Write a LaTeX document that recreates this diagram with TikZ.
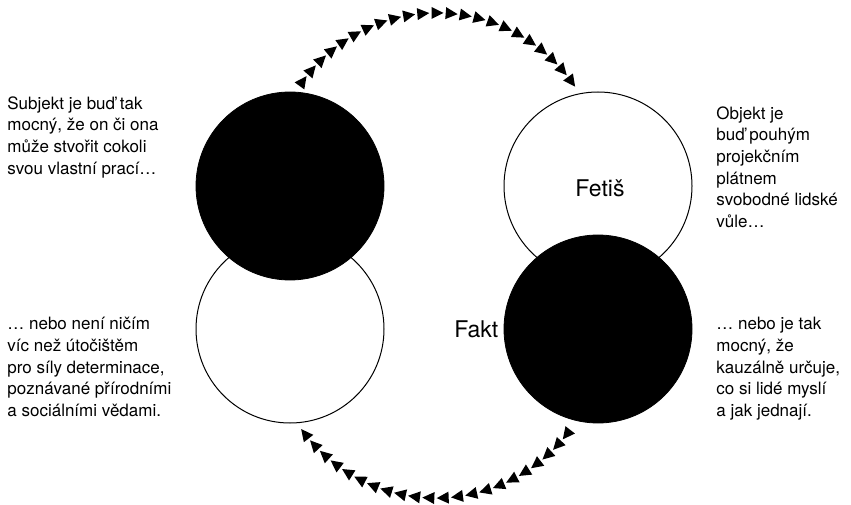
\documentclass[tikz,border=0pt]{standalone}
\usepackage{fontspec}
\setmainfont{TeX Gyre Heros}
\usetikzlibrary{positioning}

\begin{document}
\begin{tikzpicture}[x=0.5pt, y=0.5pt,
  wht/.style={circle, draw, line width=0.5pt, fill=white, inner sep=0, minimum size=94pt},
  blk/.style={circle, draw, fill=black, inner sep=0, minimum size=94pt},
  txt/.style={anchor=north west, align=left, inner sep=0, font=\fontsize{8.5}{10.85}\selectfont},
  big/.style={inner sep=0, font=\fontsize{11.5}{13}\selectfont},
  tri/.style={fill=black}
]
\useasboundingbox (0,0) rectangle (851,504);
% the four circles
\node[wht] (nat) at (290,175) {};
\node[blk] (subj) at (290,318) {};
\node[wht] (fet) at (598,318) {};
\node[blk] (fakt) at (598,175) {};
\node[big] (lfet) at (600,316) {Fetiš};
\node[big, left=2.5pt of fakt.west] (lfakt) {Fakt};
% side texts
\node[txt] (tsubj) at (7,408) {Subjekt je buď tak\\mocný, že on či ona\\může stvořit cokoli\\svou vlastní prací…};
\node[txt] (tnat) at (7,187) {… nebo není ničím\\víc než útočištěm\\pro síly determinace,\\poznávané přírodními\\a sociálními vědami.};
\node[txt] (tobj) at (716,398) {Objekt je\\buď pouhým\\projekčním\\plátnem\\svobodné lidské\\vůle…};
\node[txt] (tfakt) at (716,187) {… nebo je tak\\mocný, že\\kauzálně určuje,\\co si lidé myslí\\a jak jednají.};
% upper chain of triangles
\begin{scope}[shift={(437,325)}]
  \foreach \i in {0,...,22} {
    \pgfmathsetmacro\ang{144-\i*108/22}
    \fill[tri, rotate=\ang] (166,-6.5) -- (160,5.5) -- (172,5.5) -- cycle;
  }
\end{scope}
% lower chain of triangles
\begin{scope}[shift={(436,172)}]
  \foreach \i in {0,...,21} {
    \pgfmathsetmacro\ang{322-\i*104/21}
    \fill[tri, rotate=\ang] (166,-6.5) -- (160,5.5) -- (172,5.5) -- cycle;
  }
\end{scope}
\end{tikzpicture}
\end{document}
